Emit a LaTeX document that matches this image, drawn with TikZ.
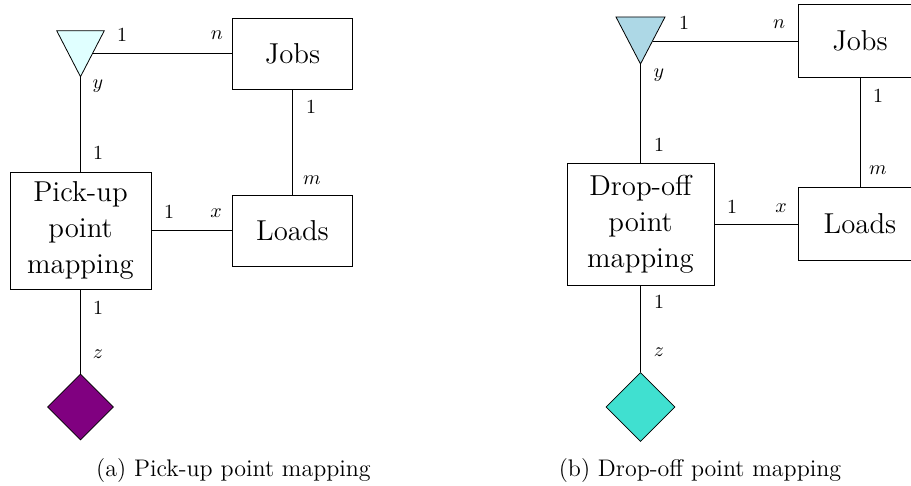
\documentclass[tikz,border=0pt]{standalone}
\usetikzlibrary{shapes.geometric}
\definecolor{cyanfill}{HTML}{E0FFFF}
\definecolor{bluefill}{HTML}{ADD8E6}
\definecolor{purpfill}{HTML}{800080}
\definecolor{turqfill}{HTML}{40E0D0}
\begin{document}
\begin{tikzpicture}[x=0.5pt,y=-0.5pt,
    entity/.style={draw,align=center,font=\Large,inner sep=0pt},
    card/.style={inner sep=0pt},
    pointer/.style={draw,diamond,inner sep=0pt,aspect=1}]
                \clip (0,0) rectangle (911,486);
                % (a) pick-up
                \draw[fill=cyanfill] (56.7,30.7) -- (104.3,30.7) -- (80.5,76.7) -- cycle;
                \coordinate (tipA) at (80.5,76.7);
                \coordinate (sideA) at (93,53.5);
                \node[entity,minimum width=60pt,minimum height=35.5pt] (jobsA) at(292.5,53.5){Jobs};
                \node[entity,minimum width=70.5pt,minimum height=58.5pt] (pickA) at(80.5,230.5){Pick-up\\point\\mapping};
                \node[entity,minimum width=60pt,minimum height=35.5pt] (loadsA) at(292.5,230.5){Loads};
                \node[pointer,fill=purpfill,minimum width=33pt,minimum height=33pt] (diaA) at(80.5,407){};
                \draw (sideA)--(jobsA);
                \draw (tipA)--(pickA);
                \draw (jobsA)--(loadsA);
                \draw (pickA)--(loadsA);
                \draw (pickA)--(diaA);
                \node[card] (a1) at(122,35){1};
                \node[card] (a2) at(217,35){$n$};
                \node[card] (a3) at(98,86){$y$};
                \node[card] (a4) at(98,153){1};
                \node[card] (a5) at(311,107){1};
                \node[card] (a6) at(312,180){$m$};
                \node[card] (a7) at(169,212){1};
                \node[card] (a8) at(216,213){$x$};
                \node[card] (a9) at(98,308){1};
                \node[card] (a10) at(98,354){$z$};
                \node[anchor=base,font=\large,inner sep=0pt] (capA) at(233.5,476){(a) Pick-up point mapping};
                % (b) drop-off
                \draw[fill=bluefill] (616,17) -- (665,17) -- (640.5,64) -- cycle;
                \coordinate (tipB) at (640.5,64);
                \coordinate (sideB) at (652.5,41);
                \node[entity,minimum width=62pt,minimum height=36.5pt] (jobsB) at(860,41){Jobs};
                \node[entity,minimum width=73.5pt,minimum height=61pt] (dropB) at(640.5,224){Drop-off\\point\\mapping};
                \node[entity,minimum width=62pt,minimum height=36.5pt] (loadsB) at(860,224){Loads};
                \node[pointer,fill=turqfill,minimum width=34.5pt,minimum height=34.5pt] (diaB) at(640.5,407){};
                \draw (sideB)--(jobsB);
                \draw (tipB)--(dropB);
                \draw (jobsB)--(loadsB);
                \draw (dropB)--(loadsB);
                \draw (dropB)--(diaB);
                \node[card] (b1) at(684,23){1};
                \node[card] (b2) at(779,24){$n$};
                \node[card] (b3) at(659,75){$y$};
                \node[card] (b4) at(659,145){1};
                \node[card] (b5) at(878,96){1};
                \node[card] (b6) at(878,170){$m$};
                \node[card] (b7) at(732,207){1};
                \node[card] (b8) at(781,208){$x$};
                \node[card] (b9) at(659,302){1};
                \node[card] (b10) at(659,352){$z$};
                \node[anchor=base,font=\large,inner sep=0pt] (capB) at(700,476){(b) Drop-off point mapping};
\end{tikzpicture}
\end{document}
